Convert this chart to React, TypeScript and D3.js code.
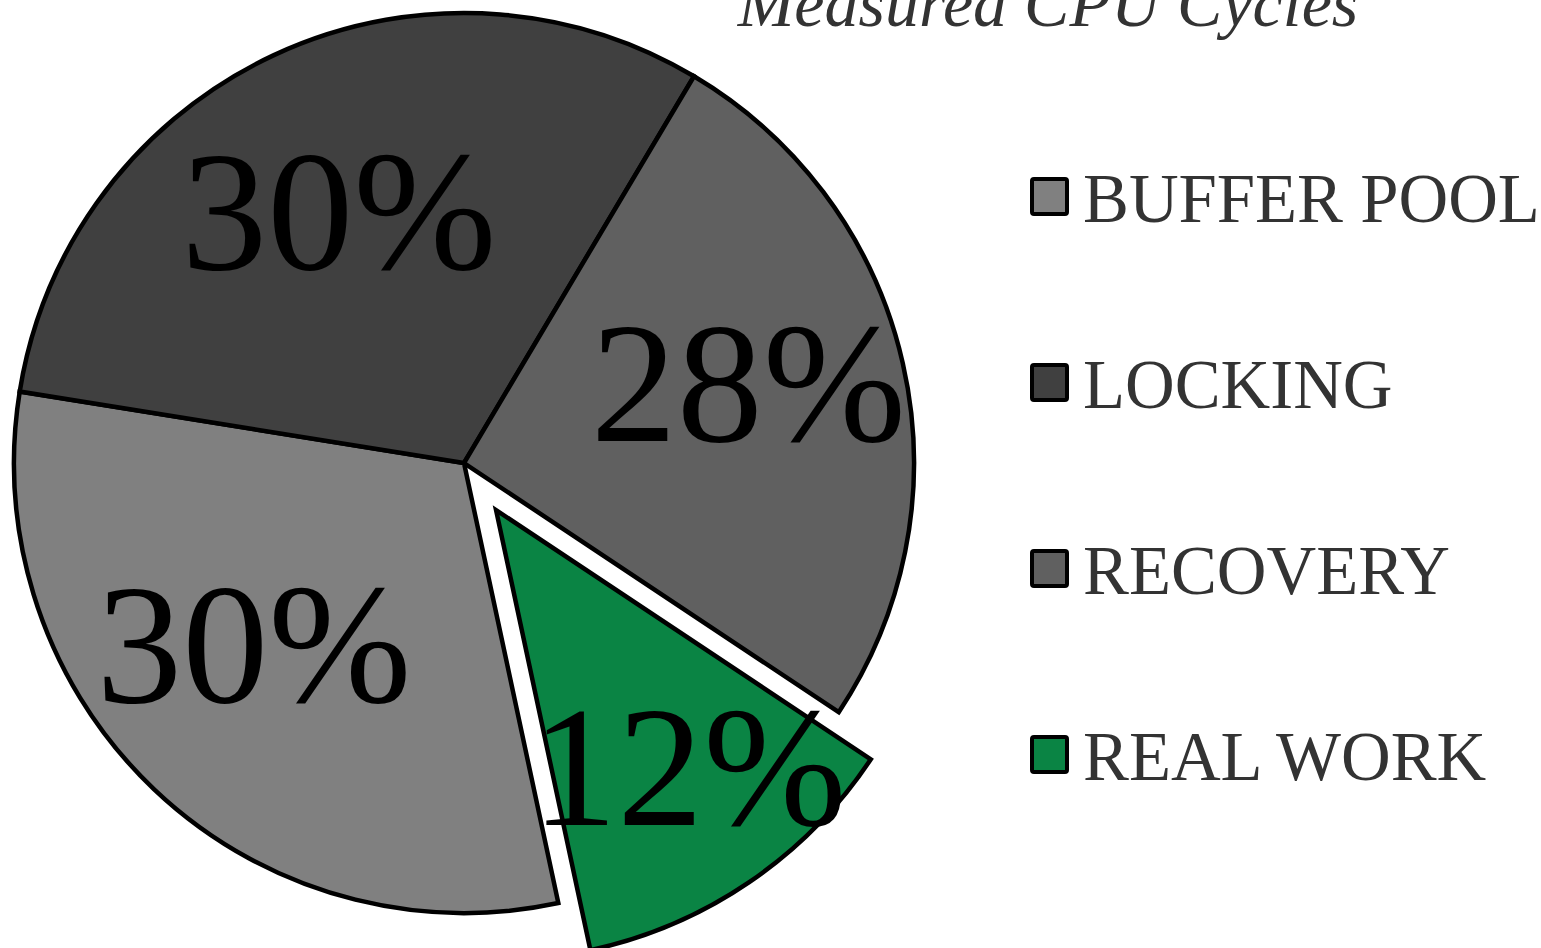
import { useEffect, useRef } from "react";
import * as d3 from "d3";

// slices, in clockwise order starting at the lower left
const categories = ["BUFFER POOL", "LOCKING", "RECOVERY", "REAL WORK"];
const values = [30.9, 31.0, 25.8, 12.3];
const labels = ["30%", "30%", "28%", "12%"];
const colors = ["#808080", "#404040", "#606060", "#0a8444"];
const exploded = [false, false, false, true];

export default function App() {
    const svgRef = useRef<SVGSVGElement | null>(null);

    useEffect(() => {
        const width = 1541;
        const height = 948;
        const cx = 464;
        const cy = 463;
        const radius = 450;
        const explode = 57;
        // small hand nudges so the labels sit where the original put them
        const nudge = [[-15, -25], [-5, 4], [8, -18], [8, -15]];

        const svg = d3.select(svgRef.current)
            .attr("width", width)
            .attr("height", height)
            .style("background", "#ffffff");

        svg.selectAll("*").remove();

        const pie = d3.pie<number>()
            .sort(null)
            .value(d => d)
            .startAngle((167.9 * Math.PI) / 180)
            .endAngle((167.9 * Math.PI) / 180 + 2 * Math.PI);

        const arcs = pie(values);
        const arc = d3.arc<d3.PieArcDatum<number>>().innerRadius(0).outerRadius(radius);

        const g = svg.append("g").attr("transform", `translate(${cx},${cy})`);

        const shift = (d: d3.PieArcDatum<number>, i: number) => {
            if (!exploded[i]) return [0, 0];
            const mid = (d.startAngle + d.endAngle) / 2;
            return [Math.sin(mid) * explode, -Math.cos(mid) * explode];
        };

        // slices
        g.selectAll("path.slice")
            .data(arcs)
            .join("path")
            .attr("class", "slice")
            .attr("transform", (d, i) => `translate(${shift(d, i)})`)
            .attr("d", arc)
            .attr("fill", (d, i) => colors[i])
            .attr("stroke", "#000")
            .attr("stroke-width", 4.5)
            .attr("stroke-linejoin", "miter");

        // percent labels
        g.selectAll("text.pct")
            .data(arcs)
            .join("text")
            .attr("class", "pct")
            .attr("transform", (d, i) => {
                const mid = (d.startAngle + d.endAngle) / 2;
                const r = exploded[i] ? radius * 0.73 : radius * 0.63;
                const [sx, sy] = shift(d, i);
                const x = Math.sin(mid) * r + sx + nudge[i][0];
                const y = -Math.cos(mid) * r + sy + nudge[i][1];
                return `translate(${x},${y})`;
            })
            .attr("text-anchor", "middle")
            .attr("dy", "0.34em")
            .attr("font-family", "'Liberation Serif', 'Times New Roman', serif")
            .attr("font-size", 172)
            .attr("fill", "#000")
            .text((d, i) => labels[i]);

        // title
        svg.append("text")
            .attr("x", 1048)
            .attr("y", 26)
            .attr("text-anchor", "middle")
            .attr("font-family", "'Liberation Serif', 'Times New Roman', serif")
            .attr("font-style", "italic")
            .attr("font-size", 68)
            .attr("fill", "#333")
            .text("Measured CPU Cycles");

        // legend
        const legendY = d3.scalePoint<string>()
            .domain(categories)
            .range([197, 755]);

        const legend = svg.append("g")
            .selectAll("g")
            .data(categories)
            .join("g")
            .attr("transform", d => `translate(1032,${legendY(d)})`);

        legend.append("rect")
            .attr("x", 0)
            .attr("y", -18)
            .attr("width", 35)
            .attr("height", 35)
            .attr("rx", 2)
            .attr("fill", (d, i) => colors[i])
            .attr("stroke", "#000")
            .attr("stroke-width", 4);

        legend.append("text")
            .attr("x", 51)
            .attr("y", 25)
            .attr("font-family", "'Liberation Serif', 'Times New Roman', serif")
            .attr("font-size", 68.8)
            .attr("fill", "#333")
            .text(d => d);
    }, []);

    return (
        <svg
            ref={svgRef}
            style={{ position: "absolute", left: 0, top: 0, display: "block" }}
        ></svg>
    );
}
